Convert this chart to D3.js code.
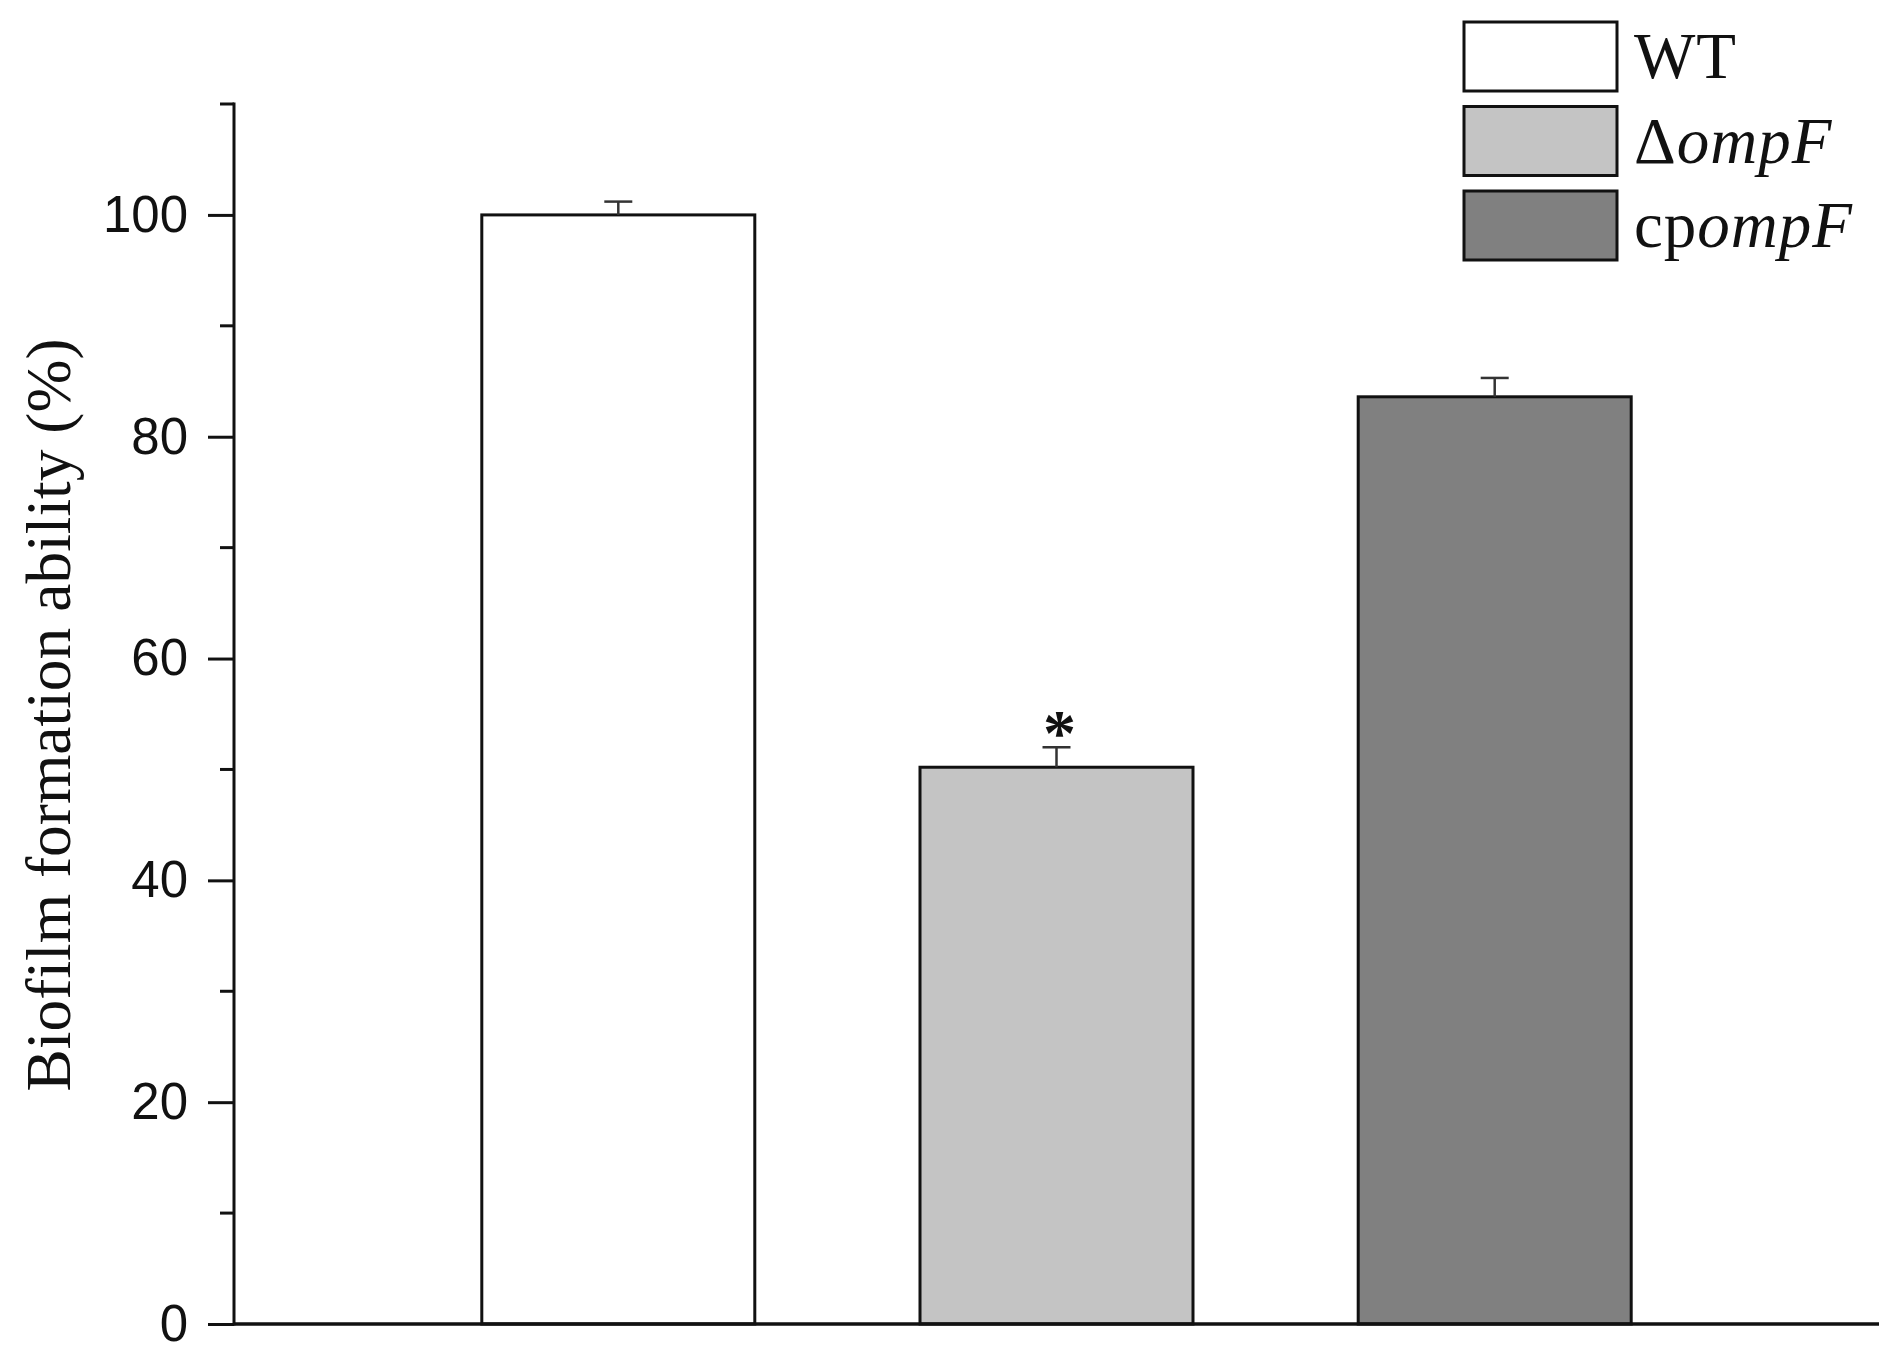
<!DOCTYPE html>
<html>
<head>
<meta charset="utf-8">
<script src="https://cdn.jsdelivr.net/npm/d3@7"></script>
<style>
  body { margin: 0; background: #fff; }
  svg { display: block; }
</style>
</head>
<body>
<div class="chart"></div>
<script>
// Biofilm bar chart
var strains = ["WT", "ompF", "cpompF"];
var biofilm = [100, 50.2, 83.6];
var sem = [1.2, 1.8, 1.7];
var barFills = ["#ffffff", "#c4c4c4", "#808080"];
var majorTicks = [0, 20, 40, 60, 80, 100];
var minorTicks = [10, 30, 50, 70, 90, 110];
var legendPre = ["WT", "\u0394", "cp"];
var legendIt = ["", "ompF", "ompF"];
var starred = [false, true, false];

var svgWidth = 1902;
var svgHeight = 1356;

var svg = d3.select(".chart")
    .append("svg")
    .attr("width", svgWidth)
    .attr("height", svgHeight);

var x = d3.scaleLinear().domain([0.123, 3.877]).range([234, 1879]);
var y = d3.scaleLinear().domain([0, 110]).range([1324, 104]);
var barW = x(1.623) - x(1);

// bars
svg.selectAll("rect.bar")
    .data(biofilm)
    .enter()
    .append("rect")
    .attr("class", "bar")
    .attr("x", function(d, i) { return x(i + 1) - barW / 2; })
    .attr("y", function(d) { return y(d); })
    .attr("width", barW)
    .attr("height", function(d) { return y(0) - y(d); })
    .attr("fill", function(d, i) { return barFills[i]; })
    .attr("stroke", "#111")
    .attr("stroke-width", 3);

// error bars
var err = svg.selectAll("g.err")
    .data(biofilm)
    .enter()
    .append("g")
    .attr("class", "err")
    .attr("stroke", "#333")
    .attr("stroke-width", 2.5);
err.append("line")
    .attr("x1", function(d, i) { return x(i + 1); })
    .attr("x2", function(d, i) { return x(i + 1); })
    .attr("y1", function(d) { return y(d); })
    .attr("y2", function(d, i) { return y(d + sem[i]); });
err.append("line")
    .attr("x1", function(d, i) { return x(i + 1) - 14; })
    .attr("x2", function(d, i) { return x(i + 1) + 14; })
    .attr("y1", function(d, i) { return y(d + sem[i]); })
    .attr("y2", function(d, i) { return y(d + sem[i]); });

// significance marks
var stars = biofilm.map(function(d, i) { return { idx: i, top: d + sem[i] }; })
    .filter(function(s) { return starred[s.idx]; });
svg.selectAll("text.star")
    .data(stars)
    .enter()
    .append("text")
    .attr("class", "star")
    .attr("x", function(s) { return x(s.idx + 1) + 3; })
    .attr("y", function(s) { return y(s.top) + 8; })
    .attr("text-anchor", "middle")
    .attr("font-family", "Liberation Serif, Times New Roman, serif")
    .attr("font-weight", "bold")
    .attr("font-size", 66)
    .attr("fill", "#111")
    .text("*");

// y axis
var leftAxis = d3.axisLeft(y)
    .tickValues(majorTicks)
    .tickSize(26)
    .tickPadding(20)
    .tickSizeOuter(0);
var yAxis = svg.append("g")
    .attr("transform", "translate(234,0)")
    .call(leftAxis);
yAxis.select(".domain").remove();
yAxis.selectAll(".tick line").attr("stroke", "#111").attr("stroke-width", 3);
yAxis.selectAll(".tick text")
    .attr("font-family", "Liberation Sans, Arial, sans-serif")
    .attr("font-size", 51)
    .attr("fill", "#111");

svg.append("g")
    .selectAll("line")
    .data(minorTicks)
    .enter()
    .append("line")
    .attr("x1", 234 - 14)
    .attr("x2", 234)
    .attr("y1", function(d) { return y(d); })
    .attr("y2", function(d) { return y(d); })
    .attr("stroke", "#111")
    .attr("stroke-width", 3);

svg.append("line")
    .attr("x1", 234).attr("x2", 234)
    .attr("y1", y(110) - 1.5).attr("y2", y(0) + 1.5)
    .attr("stroke", "#111").attr("stroke-width", 3);
svg.append("line")
    .attr("x1", 234).attr("x2", x(3.877))
    .attr("y1", y(0)).attr("y2", y(0))
    .attr("stroke", "#111").attr("stroke-width", 3.5);

// y label
svg.append("text")
    .attr("transform", "translate(70,715) rotate(-90)")
    .attr("text-anchor", "middle")
    .attr("font-family", "Liberation Serif, Times New Roman, serif")
    .attr("font-size", 63.5)
    .attr("fill", "#111")
    .text("Biofilm formation ability (%)");

// legend
var legend = svg.selectAll("g.legend")
    .data(strains)
    .enter()
    .append("g")
    .attr("class", "legend")
    .attr("transform", function(d, i) { return "translate(1464," + (22 + i * 84.5) + ")"; });
legend.append("rect")
    .attr("width", 153)
    .attr("height", 69)
    .attr("fill", function(d, i) { return barFills[i]; })
    .attr("stroke", "#111")
    .attr("stroke-width", 3);
var lt = legend.append("text")
    .attr("x", 170)
    .attr("y", 56)
    .attr("font-family", "Liberation Serif, Times New Roman, serif")
    .attr("font-size", 65)
    .attr("letter-spacing", 1)
    .attr("fill", "#111");
lt.append("tspan").text(function(d, i) { return legendPre[i]; });
lt.append("tspan").attr("font-style", "italic").text(function(d, i) { return legendIt[i]; });
</script>
</body>
</html>
